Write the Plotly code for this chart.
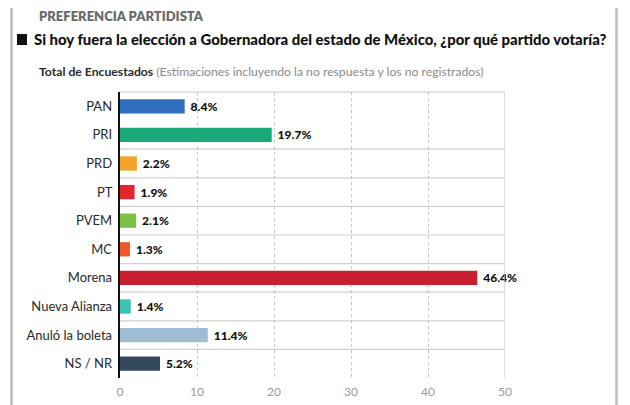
import plotly.graph_objects as go

categories = ["PAN", "PRI", "PRD", "PT", "PVEM", "MC", "Morena", "Nueva Alianza", "Anuló la boleta", "NS / NR"]
values = [8.4, 19.7, 2.2, 1.9, 2.1, 1.3, 46.4, 1.4, 11.4, 5.2]
labels = ["8.4%", "19.7%", "2.2%", "1.9%", "2.1%", "1.3%", "46.4%", "1.4%", "11.4%", "5.2%"]
colors = ["#2f6dbd", "#1aa97a", "#f3a52b", "#e1262c", "#7bc143", "#ec5a25",
          "#c9202f", "#3cc2b2", "#9ebdd4", "#34485c"]
x_ticks = [0, 10, 20, 30, 40, 50]

FONT = "Lato, Roboto, sans-serif"

# the page body has an 8px margin; work in page pixels and compensate
OFF = 8
W, H = 630 - OFF, 405 - OFF
# plot area in page pixels: x 120..505, y 92..378
PX0, PX1, PY0, PY1 = 120, 505, 92, 378
L, T = PX0 - OFF, PY0 - OFF
R, B = 630 - PX1, 405 - PY1
PW, PH = PX1 - PX0, PY1 - PY0


def px(x):
    return (x - PX0) / PW


def py(y):
    return 1 - (y - PY0) / PH


fig = go.Figure(go.Bar(
    x=values, y=categories, orientation="h",
    marker=dict(color=colors, line=dict(width=0)),
    width=0.5,
    text=labels, texttemplate=" %{text}", textposition="outside", cliponaxis=False,
    textfont=dict(family=FONT, size=13.5, color="#111111", weight=900),
))

shapes = []
for i in range(1, len(categories) - 1):
    shapes.append(dict(type="line", xref="x", yref="y", x0=0, x1=50,
                       y0=i + 0.5, y1=i + 0.5, line=dict(color="#d0d0d0", width=1.2), layer="below"))
shapes.append(dict(type="line", xref="x", yref="paper", x0=0, x1=50, y0=1, y1=1,
                   line=dict(color="#cccccc", width=1.2)))
shapes.append(dict(type="line", xref="x", yref="paper", x0=50, x1=50, y0=0, y1=1,
                   line=dict(color="#cccccc", width=1.2)))
# card frame
shapes.append(dict(type="rect", xref="paper", yref="paper",
                   x0=px(11.5), x1=px(616.5), y0=py(420), y1=py(4),
                   line=dict(color="#bdbdbd", width=2.5), layer="below"))
# black square bullet
shapes.append(dict(type="rect", xref="paper", yref="paper",
                   x0=px(17), x1=px(27), y0=py(45), y1=py(34),
                   fillcolor="#111111", line=dict(width=0)))

fig.update_layout(
    width=W, height=H,
    margin=dict(l=L, r=R, t=T, b=B),
    paper_bgcolor="white", plot_bgcolor="white",
    showlegend=False,
    font=dict(family=FONT),
    xaxis=dict(range=[0, 50], tickvals=x_ticks, ticktext=[str(t) for t in x_ticks],
               showgrid=True, gridcolor="#c4c4c4", griddash="dot", gridwidth=1,
               zeroline=False, showline=False, ticks="", automargin=False,
               ticklabelstandoff=5,
               tickfont=dict(family=FONT, size=12, color="#9a9a9a")),
    yaxis=dict(autorange="reversed", showgrid=False, zeroline=False,
               showline=True, linecolor="#111111", linewidth=2, ticks="",
               ticksuffix=" ", automargin=False,
               tickfont=dict(family=FONT, size=13, color="#2a2a2a")),
    shapes=shapes,
    annotations=[
        dict(xref="paper", yref="paper", x=px(37), y=py(16), xanchor="left", yanchor="middle",
             text="PREFERENCIA PARTIDISTA", showarrow=False,
             font=dict(family=FONT, size=13, color="#6b6b6b", weight=800)),
        dict(xref="paper", yref="paper", x=px(32), y=py(39), xanchor="left", yanchor="middle",
             text="Si hoy fuera la elección a Gobernadora del estado de México, ¿por qué partido votaría?",
             showarrow=False, font=dict(family=FONT, size=14.9, color="#111111", weight=900)),
        dict(xref="paper", yref="paper", x=px(37), y=py(72), xanchor="left", yanchor="middle",
             text="<b>Total de Encuestados</b> <span style='color:#8a8a8a'>(Estimaciones incluyendo la no respuesta y los no registrados)</span>",
             showarrow=False, font=dict(family=FONT, size=12.2, color="#2a2a2a")),
    ],
)

fig.write_html("out.html")
